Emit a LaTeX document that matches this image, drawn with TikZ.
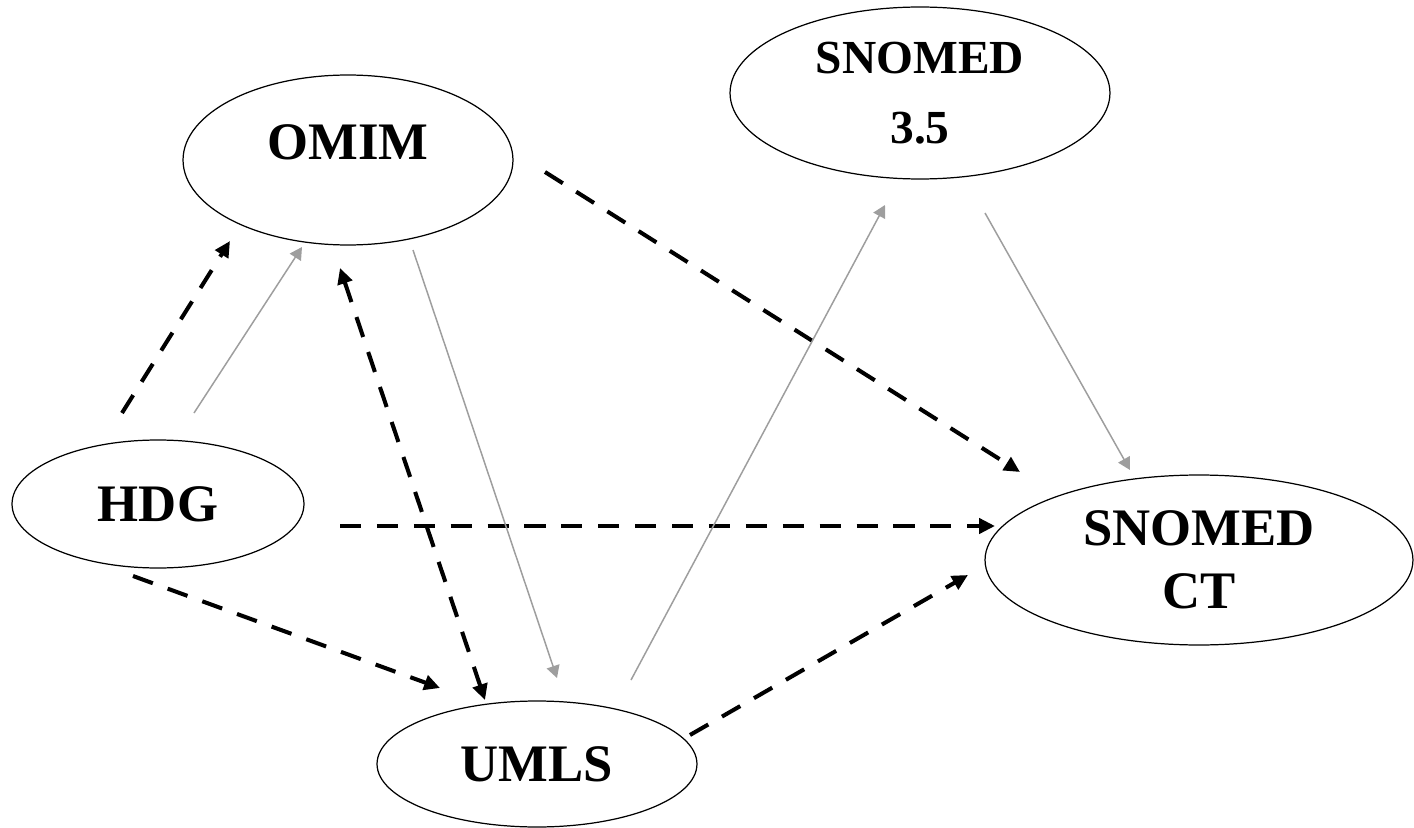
\documentclass[tikz,border=0pt]{standalone}
\usepackage{fontspec}
\setmainfont{Liberation Serif}
\usetikzlibrary{arrows.meta, shapes.geometric}

\begin{document}
\begin{tikzpicture}[x = 0.02cm, y = -0.02cm]
\tikzstyle{VocabStyle}=[shape = ellipse, draw, line width = 0.7pt,
                        inner sep = 0pt, align = center,
                        font = \fontsize{30}{36}\selectfont\bfseries]
\tikzstyle{MapStyle}=[line width = 2.3pt, dash pattern = on 12pt off 9pt,
                      -{Triangle[length = 9pt, width = 8.5pt]}]
\tikzstyle{LinkStyle}=[line width = 0.85pt, black!38,
                       -{Triangle[length = 7pt, width = 7.5pt]}]
\useasboundingbox (0,0) rectangle (1414,828);
% vocabularies
\node[VocabStyle, minimum width = 6.6cm, minimum height = 3.4cm, text depth = 20pt] (omim) at (348,160) {OMIM};
\node[VocabStyle, minimum width = 7.6cm, minimum height = 3.44cm, font = \fontsize{27}{40}\selectfont\bfseries] (sn35) at (920,93) {SNOMED\\3.5};
\node[VocabStyle, minimum width = 5.84cm, minimum height = 2.56cm] (hdg) at (158,504) {HDG};
\node[VocabStyle, minimum width = 8.56cm, minimum height = 3.4cm] (snct) at (1199,560) {SNOMED\\CT};
\node[VocabStyle, minimum width = 6.4cm, minimum height = 2.52cm] (umls) at (537,764) {UMLS};
% connector ends
\coordinate (hdg-a) at (122,413);   \coordinate (omim-a) at (230,241);
\coordinate (hdg-b) at (194,413);   \coordinate (omim-b) at (302,247);
\coordinate (omim-c) at (340,268);  \coordinate (umls-c) at (485,700);
\coordinate (omim-d) at (413,250);  \coordinate (umls-d) at (557,678);
\coordinate (hdg-e) at (340,526);   \coordinate (snct-e) at (995,526);
\coordinate (hdg-f) at (133,576);   \coordinate (umls-f) at (440,688);
\coordinate (omim-g) at (545,172);  \coordinate (snct-g) at (1020,472);
\coordinate (umls-h) at (690,735);  \coordinate (snct-h) at (968,575);
\coordinate (umls-i) at (631,680);  \coordinate (sn35-i) at (885,205);
\coordinate (sn35-j) at (985,213);  \coordinate (snct-j) at (1130,470);
% mappings
\draw[MapStyle] (hdg-a) -- (omim-a);
\draw[MapStyle, {Triangle[length = 9pt, width = 8.5pt]}-{Triangle[length = 9pt, width = 8.5pt]}] (omim-c) -- (umls-c);
\draw[MapStyle] (hdg-e) -- (snct-e);
\draw[MapStyle] (hdg-f) -- (umls-f);
\draw[MapStyle] (omim-g) -- (snct-g);
\draw[MapStyle] (umls-h) -- (snct-h);
% links
\draw[LinkStyle] (hdg-b) -- (omim-b);
\draw[LinkStyle] (omim-d) -- (umls-d);
\draw[LinkStyle] (umls-i) -- (sn35-i);
\draw[LinkStyle] (sn35-j) -- (snct-j);
\end{tikzpicture}
\end{document}
